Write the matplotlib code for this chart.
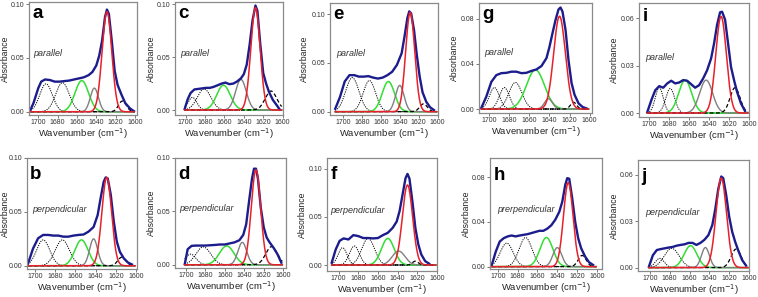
import numpy as np
import matplotlib
matplotlib.use("Agg")
from matplotlib import pyplot as plt

plt.rcParams['font.family'] = ['Liberation Sans', 'DejaVu Sans']

a_x = [1708,1705,1700,1697,1693,1688,1683,1678,1673,1668,1663,1658,1653,1648,1644,1640,1637,1634,1631,1629,1627,1624,1621,1618,1614,1610,1605,1601]
a_y = [0.002,0.008,0.022,0.028,0.030,0.0295,0.028,0.028,0.0285,0.029,0.030,0.031,0.032,0.034,0.037,0.043,0.052,0.066,0.088,0.095,0.091,0.066,0.038,0.025,0.016,0.008,0.003,0.0005]
c_x = [1701,1698,1695,1691,1687,1683,1679,1675,1671,1667,1663,1659,1655,1651,1647,1643,1640,1637,1634,1631,1628,1626,1623,1620,1617,1614,1610,1606,1603]
c_y = [0.001,0.010,0.016,0.0195,0.020,0.0205,0.021,0.021,0.022,0.0235,0.025,0.026,0.0245,0.025,0.027,0.030,0.034,0.043,0.062,0.085,0.099,0.094,0.062,0.035,0.025,0.017,0.0095,0.0045,0.0005]
e_x = [1708,1703,1698,1693,1688,1683,1678,1673,1668,1663,1658,1653,1648,1643,1638,1635,1632,1630,1628,1625,1622,1619,1616,1612,1608,1604]
e_y = [0.003,0.015,0.031,0.0375,0.0375,0.036,0.036,0.0365,0.035,0.034,0.035,0.0375,0.041,0.048,0.060,0.077,0.096,0.103,0.101,0.084,0.058,0.036,0.020,0.010,0.0045,0.0017]
g_x = [1708,1703,1698,1693,1688,1683,1678,1673,1668,1663,1658,1653,1648,1643,1640,1637,1634,1631,1629,1627,1624,1621,1618,1615,1611,1607,1603]
g_y = [0.001,0.011,0.024,0.030,0.0317,0.032,0.033,0.033,0.0317,0.032,0.0337,0.035,0.038,0.045,0.055,0.067,0.0786,0.088,0.0897,0.086,0.070,0.043,0.023,0.0126,0.005,0.0018,0.0005]
i_x = [1702,1698,1694,1690,1686,1682,1678,1674,1670,1666,1662,1658,1654,1650,1646,1642,1638,1635,1632,1629,1627,1624,1621,1618,1615,1612,1608,1604]
i_y = [0.0006,0.008,0.0144,0.017,0.016,0.0187,0.0204,0.0187,0.0193,0.0208,0.0204,0.0182,0.016,0.0176,0.0218,0.027,0.0345,0.044,0.0558,0.0636,0.064,0.059,0.044,0.029,0.0208,0.0134,0.006,0.0013]
b_x = [1707,1702,1697,1692,1687,1682,1677,1672,1667,1662,1657,1652,1647,1642,1638,1635,1632,1630,1628,1625,1622,1619,1616,1612,1608,1604]
b_y = [0.002,0.016,0.0255,0.0286,0.0286,0.028,0.028,0.027,0.027,0.028,0.0286,0.029,0.0317,0.036,0.047,0.063,0.078,0.082,0.081,0.066,0.041,0.0224,0.013,0.0068,0.003,0.0012]
d_x = [1701,1698,1694,1690,1685,1680,1675,1670,1665,1660,1655,1650,1645,1641,1638,1635,1632,1630,1628,1626,1623,1620,1617,1614,1610,1606,1602]
d_y = [0.0006,0.0146,0.0177,0.018,0.018,0.018,0.0183,0.0186,0.019,0.019,0.020,0.021,0.023,0.028,0.038,0.060,0.081,0.090,0.090,0.081,0.053,0.035,0.0255,0.021,0.016,0.010,0.002]
f_x = [1707,1703,1699,1695,1690,1685,1680,1675,1670,1665,1660,1655,1650,1645,1641,1638,1635,1632,1630,1628,1625,1622,1619,1616,1612,1608]
f_y = [0.0024,0.016,0.025,0.0276,0.0265,0.031,0.030,0.028,0.028,0.0276,0.028,0.031,0.0334,0.0386,0.045,0.056,0.073,0.090,0.0945,0.0897,0.066,0.0386,0.0214,0.011,0.004,0.0014]
h_x = [1706,1702,1698,1694,1690,1686,1682,1678,1674,1670,1666,1662,1658,1654,1650,1646,1642,1638,1635,1632,1630,1628,1625,1622,1619,1616,1612,1608,1604]
h_y = [0.0015,0.0134,0.0224,0.0254,0.027,0.0278,0.027,0.0278,0.0284,0.029,0.030,0.031,0.032,0.032,0.034,0.037,0.042,0.049,0.058,0.073,0.079,0.0785,0.061,0.040,0.0254,0.0164,0.009,0.0039,0.0015]
j_x = [1701,1697,1693,1689,1685,1681,1677,1673,1669,1665,1661,1657,1653,1649,1645,1641,1637,1634,1631,1628,1626,1623,1620,1617,1614,1611,1607,1603]
j_y = [0.0006,0.008,0.0114,0.012,0.0125,0.013,0.0134,0.0142,0.0147,0.0151,0.016,0.016,0.0147,0.016,0.018,0.021,0.0276,0.038,0.051,0.059,0.058,0.047,0.033,0.0233,0.0168,0.0114,0.005,0.0013]

# fitted bands: (kind, centre, height, sigma)
a_peaks = [("dot",1692,0.026,6.5),("dot",1675,0.027,7),("green",1655,0.029,7),("gray",1642,0.022,4.2),("dash",1613,0.010,4),("red",1629,0.093,5)]
c_peaks = [("dot",1693,0.012,4.5),("dot",1681,0.020,7),("green",1661,0.0235,7),("gray",1643,0.029,5.5),("dash",1612,0.018,6),("red",1628,0.097,4.8)]
e_peaks = [("dot",1690,0.035,7),("dot",1672,0.032,6.5),("green",1652,0.031,6.5),("gray",1640,0.027,4.5),("dash",1615,0.008,4),("red",1629,0.102,4.8)]
g_peaks = [("dot",1695,0.019,5),("dot",1685,0.019,5),("dot",1674,0.0235,6.5),("green",1654,0.0346,9),("gray",1641,0.009,4),("dash",1616,0.006,3),("red",1630,0.082,5.8)]
i_peaks = [("dot",1690,0.016,4),("dot",1679,0.0155,4.5),("green",1664,0.0208,6.5),("gray",1643,0.0208,6.5),("dash",1614,0.016,5),("red",1628,0.061,5.3)]
b_peaks = [("dot",1692,0.024,6.5),("dot",1673,0.024,7),("green",1654,0.024,6.5),("gray",1642,0.025,4),("dash",1614,0.008,4),("red",1629,0.082,4.8)]
d_peaks = [("dot",1695,0.010,5.5),("dot",1682,0.0168,7.5),("green",1658,0.0177,7.5),("gray",1642,0.021,4.5),("dash",1612,0.017,6),("red",1628,0.089,4.8)]
f_peaks = [("dot",1696,0.018,4.5),("dot",1684,0.0197,5),("dot",1670,0.0276,6.5),("green",1650,0.0276,6.5),("gray",1639,0.0145,6.5),("dash",1622,0.004,3),("red",1630,0.083,5.2)]
h_peaks = [("dot",1691,0.021,6.5),("dot",1672,0.026,6.5),("green",1651,0.026,6.5),("gray",1640,0.017,4.5),("dash",1615,0.010,4),("red",1629,0.075,4.8)]
j_peaks = [("dot",1690,0.006,4.5),("dot",1678,0.0125,7.5),("green",1659,0.0142,6.5),("gray",1644,0.013,4),("dash",1613,0.012,5),("red",1628,0.058,5.3)]

x_ticks = [1700, 1680, 1660, 1640, 1620, 1600]
ticks_010 = [0.00, 0.05, 0.10]
ticks_008 = [0.00, 0.04, 0.08]
ticks_006 = [0.00, 0.03, 0.06]

# layout: letter, data, frame in pixels (left, top, right, bottom), xlim, ylim, yticks, label, text pos, letter y, ylabel gap
panels = [
    ("a", a_x, a_y, a_peaks, (29, 2, 137, 115), (1709.6, 1597.9), (-0.003, 0.102), ticks_010, "parallel", (0.04, 0.52), 0.855, 19.5),
    ("c", c_x, c_y, c_peaks, (175, 2, 283, 115), (1711, 1599.6), (-0.0047, 0.1023), ticks_010, "parallel", (0.05, 0.52), 0.855, 19.5),
    ("e", e_x, e_y, e_peaks, (330, 3, 438, 115), (1713.5, 1599.7), (-0.0034, 0.1116), ticks_010, "parallel", (0.06, 0.53), 0.855, 21),
    ("g", g_x, g_y, g_peaks, (479, 3, 592, 113), (1710.3, 1597.6), (-0.0035, 0.0937), ticks_008, "parallel", (0.05, 0.53), 0.855, 20),
    ("i", i_x, i_y, i_peaks, (639, 3, 749, 117), (1710.3, 1600), (-0.0025, 0.0695), ticks_006, "parallel", (0.055, 0.50), 0.845, 20),
    ("b", b_x, b_y, b_peaks, (27, 158, 137, 269), (1708, 1599), (-0.003, 0.100), ticks_010, "perpendicular", (0.05, 0.517), 0.81, 17.5),
    ("d", d_x, d_y, d_peaks, (175, 158, 286, 268), (1711, 1597.2), (-0.003, 0.100), ticks_010, "perpendicular", (0.04, 0.517), 0.81, 19.5),
    ("f", f_x, f_y, f_peaks, (327, 158, 437, 271), (1711.8, 1600), (-0.0062, 0.111), ticks_010, "perpendicular", (0.03, 0.51), 0.81, 20),
    ("h", h_x, h_y, h_peaks, (490, 158, 602, 269), (1707.8, 1595), (-0.0021, 0.097), ticks_008, "prerpendicular", (0.06, 0.51), 0.80, 19),
    ("j", j_x, j_y, j_peaks, (638, 160, 749, 271), (1712, 1600), (-0.0022, 0.0697), ticks_006, "perpendicular", (0.065, 0.50), 0.81, 19.5),
]

styles = {
    "dot": dict(color="black", lw=0.7, ls=(0, (1.2, 1.2))),
    "green": dict(color="#33dd33", lw=1.1, ls="-"),
    "gray": dict(color="#808080", lw=1.0, ls="-"),
    "dash": dict(color="black", lw=0.9, ls=(0, (3, 2))),
    "red": dict(color="#e8202a", lw=1.1, ls="-"),
}

W, H = 758, 297
fig = plt.figure(figsize=(W / 100, H / 100), dpi=100)

for letter, bx, by, peaks, frame, xl, yl, yt, label, tpos, ly, ygap in panels:
    L, T, R, B = frame
    ax = fig.add_axes([L / W, 1 - B / H, (R - L) / W, (B - T) / H])
    # fitted components
    xx = np.linspace(bx[0], 1601, 400)
    for kind, c0, h0, s0 in peaks:
        if kind == "red":
            continue
        yy = h0 * np.exp(-(xx - c0) ** 2 / (2 * s0 ** 2))
        ax.plot(xx, yy, **styles[kind])
    # measured spectrum
    ax.plot(bx, by, color="#1c1c8c", lw=1.7, solid_joinstyle="round")
    for kind, c0, h0, s0 in peaks:
        if kind == "red":
            yy = h0 * np.exp(-(xx - c0) ** 2 / (2 * s0 ** 2))
            ax.plot(xx, yy, **styles[kind])

    ax.set_xlim(xl)
    ax.set_ylim(yl)
    ax.set_xticks(x_ticks)
    ax.set_yticks(yt)
    ax.set_yticklabels(["%.2f" % v for v in yt])
    ax.tick_params(labelsize=5, length=2, width=0.5, pad=1, colors="#444444", labelcolor="#333333")
    for sp in ax.spines.values():
        sp.set_color("#8a8a8a")
        sp.set_linewidth(0.9)
    ax.set_xlabel("Wavenumber (cm$^{-1}$)", fontsize=6.8, color="#222222")
    ax.xaxis.set_label_coords(0.5, -11.5 / (B - T))
    ax.set_ylabel("Absorbance", fontsize=6.2, color="#222222")
    ax.yaxis.set_label_coords(-ygap / (R - L), 0.5)
    ax.text(0.03, ly, letter, transform=ax.transAxes, fontsize=13.5, fontweight="bold", va="baseline")
    ax.text(tpos[0], tpos[1], label, transform=ax.transAxes, fontsize=6.5, style="italic", color="#333333", va="baseline")

fig.savefig("out.png", dpi=100)
